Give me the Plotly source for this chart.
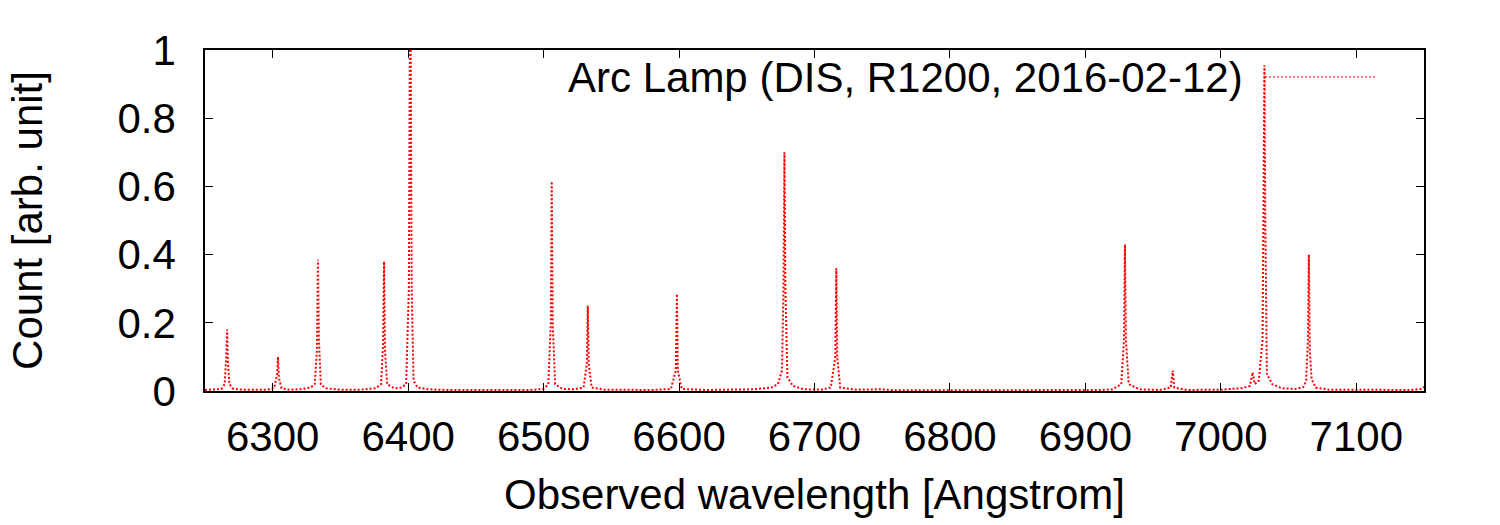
import plotly.graph_objects as go

# Wavelength samples [Angstrom] and normalized counts
wavelength = [
    6250.0, 6258.0, 6262.0, 6264.5, 6265.7, 6266.3, 6266.9, 6268.0, 6271.0, 6278.0,
    6296.0, 6301.0, 6303.3, 6303.9, 6304.5, 6306.5, 6312.0,
    6320.0, 6328.0, 6331.0, 6332.6, 6333.4, 6334.1, 6335.5, 6339.0, 6350.0,
    6365.0, 6376.0, 6380.0, 6381.5, 6382.2, 6382.9, 6384.5, 6390.0,
    6395.0, 6398.5, 6400.5, 6401.3, 6401.9, 6402.6, 6404.0, 6407.0, 6415.0, 6430.0,
    6490.0, 6500.0, 6503.5, 6505.3, 6506.0, 6506.7, 6508.5, 6514.0,
    6522.0, 6529.5, 6531.9, 6532.6, 6533.3, 6535.5, 6545.0,
    6580.0, 6594.0, 6597.6, 6598.4, 6599.1, 6602.0, 6620.0,
    6645.0, 6655.0, 6668.0, 6673.0, 6676.0, 6677.1, 6677.8, 6678.5, 6680.0, 6684.0, 6692.0,
    6705.0, 6712.0, 6715.4, 6716.1, 6716.8, 6719.0, 6730.0, 6750.0, 6760.0,
    6800.0, 6880.0, 6910.0,
    6920.0, 6926.5, 6928.5, 6929.2, 6929.9, 6932.0, 6940.0,
    6955.0, 6963.0, 6964.5, 6965.6, 6975.0,
    7000.0, 7015.0, 7021.5, 7023.5, 7025.0, 7028.0,
    7030.8, 7031.6, 7032.2, 7032.8, 7034.0, 7038.0, 7045.0, 7055.0,
    7061.0, 7063.0, 7064.3, 7065.0, 7065.7, 7067.0, 7070.0, 7080.0, 7100.0, 7140.0, 7148.0, 7150.0,
]
counts = [
    0.003, 0.004, 0.006, 0.020, 0.100, 0.180, 0.090, 0.020, 0.006, 0.004,
    0.004, 0.008, 0.050, 0.100, 0.040, 0.008, 0.004,
    0.005, 0.010, 0.020, 0.120, 0.385, 0.150, 0.020, 0.008, 0.004,
    0.004, 0.008, 0.020, 0.140, 0.380, 0.120, 0.020, 0.008,
    0.010, 0.020, 0.300, 1.020, 1.020, 0.300, 0.030, 0.010, 0.005, 0.003,
    0.003, 0.006, 0.020, 0.200, 0.615, 0.200, 0.020, 0.006,
    0.005, 0.010, 0.080, 0.250, 0.080, 0.010, 0.004,
    0.003, 0.006, 0.060, 0.285, 0.060, 0.006, 0.003,
    0.003, 0.005, 0.010, 0.020, 0.060, 0.300, 0.700, 0.300, 0.040, 0.015, 0.005,
    0.004, 0.010, 0.100, 0.360, 0.100, 0.010, 0.004, 0.005, 0.002,
    0.002, 0.002, 0.003,
    0.005, 0.020, 0.150, 0.430, 0.150, 0.020, 0.005,
    0.003, 0.010, 0.060, 0.010, 0.003,
    0.004, 0.008, 0.015, 0.055, 0.020, 0.030,
    0.150, 0.600, 0.955, 0.500, 0.050, 0.020, 0.008, 0.006,
    0.012, 0.030, 0.150, 0.400, 0.120, 0.035, 0.010, 0.004, 0.003, 0.003, 0.006, 0.012,
]

x_ticks = [6300, 6400, 6500, 6600, 6700, 6800, 6900, 7000, 7100]
y_ticks = [0, 0.2, 0.4, 0.6, 0.8, 1]
y_tick_text = ["0", "0.2", "0.4", "0.6", "0.8", "1"]
series_name = "Arc Lamp (DIS, R1200, 2016-02-12)"

FONT = "Liberation Sans, Arial, Helvetica, sans-serif"
FS = 42
RED = "#ff0000"

# plot-area pixel frame (used only to place the gnuplot-style key)
PX_L, PX_R, PX_T, PX_B = 205, 1424, 50, 391

def px_to_paper_x(px):
    return (px - PX_L) / (PX_R - PX_L)

def px_to_paper_y(py):
    return (PX_B - py) / (PX_B - PX_T)

fig = go.Figure()
fig.add_trace(go.Scatter(
    x=wavelength, y=counts, mode="lines", name=series_name,
    line=dict(color=RED, width=2, dash="2px,2px"),
    showlegend=False,
))

# gnuplot-style key: text on the left, line sample on the right
fig.add_annotation(
    x=px_to_paper_x(1245), y=px_to_paper_y(77),
    xref="paper", yref="paper", text=series_name,
    showarrow=False, xanchor="right", yanchor="middle",
    font=dict(family=FONT, size=FS, color="black"),
)
fig.add_shape(
    type="line", xref="paper", yref="paper",
    x0=px_to_paper_x(1265), x1=px_to_paper_x(1375),
    y0=px_to_paper_y(77), y1=px_to_paper_y(77),
    line=dict(color=RED, width=1.2, dash="2px,2px"),
)

axis_common = dict(
    showline=True, linecolor="black", linewidth=1.5, mirror="ticks",
    ticks="inside", ticklen=8, tickwidth=1.2, tickcolor="black",
    showgrid=False, zeroline=False,
    tickfont=dict(family=FONT, size=FS, color="black"),
    title_font=dict(family=FONT, size=FS, color="black"),
)

fig.update_xaxes(
    range=[6250, 7150], tickvals=x_ticks, ticktext=[str(v) for v in x_ticks],
    title_text="Observed wavelength [Angstrom]", ticklabelstandoff=8,
    title_standoff=20, **axis_common,
)
fig.update_yaxes(
    range=[0, 1], tickvals=y_ticks, ticktext=y_tick_text,
    title_text="Count [arb. unit]", ticklabelstandoff=19,
    title_standoff=62, **axis_common,
)

fig.update_layout(
    width=1500, height=525,
    margin=dict(l=205, r=76, t=50, b=134),
    paper_bgcolor="white", plot_bgcolor="white",
    font=dict(family=FONT, size=FS, color="black"),
)

fig.write_html("out.html", config={"displayModeBar": False})
